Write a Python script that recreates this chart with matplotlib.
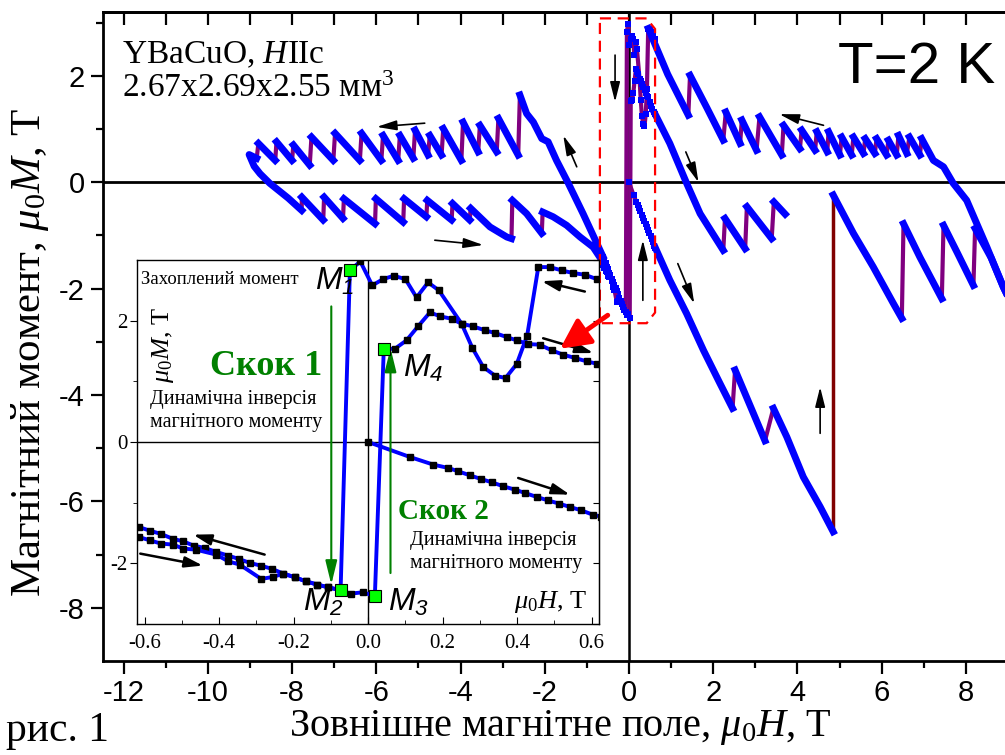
import numpy as np
import matplotlib
matplotlib.use('Agg')
import matplotlib.pyplot as plt
from matplotlib.patches import Polygon, FancyArrowPatch

plt.rcParams['font.family'] = ['Liberation Serif', 'DejaVu Serif']
plt.rcParams['mathtext.fontset'] = 'custom'
plt.rcParams['mathtext.rm'] = 'Liberation Serif'
plt.rcParams['mathtext.it'] = 'Liberation Serif:italic'
plt.rcParams['mathtext.bf'] = 'Liberation Serif:bold'
plt.rcParams['mathtext.sf'] = 'Liberation Sans:italic'
plt.rcParams['axes.unicode_minus'] = False

BLUE = '#0000ff'
PURPLE = '#800080'
MAROON = '#800000'
GREEN = '#008000'

# ---- дані біля нуля (вставка), мю0H в Т, мю0M в Т ----
# поле зменшується від +0.62 до -0.62 (стрибок 1: M1 -> M2)
runA_h = [0.614, 0.582, 0.551, 0.520, 0.488, 0.457, 0.427, 0.399, 0.369, 0.341, 0.309, 0.280,
          0.251, 0.190, 0.161, 0.130, 0.100, 0.069, 0.040, 0.011, -0.021, -0.049,
          -0.074, -0.108, -0.137, -0.168, -0.197, -0.228, -0.258, -0.289, -0.318, -0.347,
          -0.376, -0.408, -0.439, -0.469, -0.497, -0.524, -0.556, -0.587, -0.616]
runA_m = [2.685, 2.757, 2.784, 2.828, 2.883, 2.883, 1.752, 1.285, 1.054, 1.093, 1.236, 1.549,
          1.949, 2.499, 2.630, 2.383, 2.685, 2.740, 2.685, 2.581, 2.976, 2.828,
          -2.444, -2.394, -2.350, -2.295, -2.230, -2.169, -2.092, -2.037, -1.993, -1.928,
          -1.873, -1.812, -1.746, -1.708, -1.636, -1.598, -1.516, -1.461, -1.400]
# поле зростає від -0.62 до +0.62 (стрибок 2: M3 -> M4)
runB_h = [-0.616, -0.587, -0.556, -0.524, -0.497, -0.463, -0.408, -0.376, -0.345, -0.287,
          -0.255, -0.228, -0.197, -0.168, -0.137, -0.108, -0.074, -0.047, -0.013, 0.018,
          0.042, 0.072, 0.103, 0.134, 0.166, 0.194, 0.224, 0.251, 0.282, 0.314,
          0.341, 0.372, 0.399, 0.430, 0.461, 0.493, 0.524, 0.556, 0.587, 0.614]
runB_m = [-1.565, -1.620, -1.675, -1.691, -1.757, -1.774, -1.856, -1.966, -2.021, -2.257,
          -2.224, -2.169, -2.230, -2.295, -2.350, -2.394, -2.444, -2.499, -2.477, -2.543,
          1.532, 1.538, 1.675, 1.906, 2.136, 2.070, 2.032, 1.949, 1.906, 1.840,
          1.796, 1.730, 1.675, 1.614, 1.604, 1.510, 1.439, 1.384, 1.329, 1.291]
# початкова крива
runC_h = [0.0, 0.112, 0.175, 0.215, 0.242, 0.273, 0.303, 0.332, 0.363, 0.394, 0.421,
          0.453, 0.482, 0.513, 0.542, 0.572, 0.603, 0.625]
runC_m = [0.0, -0.247, -0.373, -0.428, -0.483, -0.549, -0.610, -0.664, -0.730, -0.785, -0.840,
          -0.906, -0.961, -1.016, -1.071, -1.126, -1.197, -1.23]

# точки M1..M4
mpt_h = [-0.049, -0.074, 0.018, 0.042]
mpt_m = [2.828, -2.444, -2.543, 1.532]
mpt_names = ['1', '2', '3', '4']

# ---- основний графік ----
# верхня гілка, від +0.46 Т до правого краю
up_h = [0.46, 0.92, 1.41, 1.45, 1.85, 2.24, 2.30, 2.64, 2.68, 3.03, 3.10, 3.63, 3.67, 4.06,
        4.10, 4.42, 4.46, 4.71, 4.74, 5.01, 5.05, 5.29, 5.33, 5.57, 5.61, 5.84, 5.88, 6.12,
        6.16, 6.36, 6.40, 6.60, 6.66, 6.91, 6.95, 7.23, 7.47, 7.70, 8.02, 8.50, 8.89, 9.0]
up_m = [2.89, 2.03, 1.26, 2.01, 1.40, 0.79, 1.32, 0.73, 1.17, 0.60, 1.23, 0.51, 1.07, 0.63,
        0.98, 0.60, 0.95, 0.57, 0.95, 0.51, 0.85, 0.51, 0.85, 0.54, 0.82, 0.54, 0.82, 0.51,
        0.79, 0.51, 0.88, 0.54, 0.85, 0.51, 0.82, 0.41, 0.29, -0.02, -0.34, -1.22, -1.97, -2.15]

# петля в від'ємних полях (до -9 Т і назад)
loop_h = [-0.616, -1.09, -1.44, -1.72, -1.92, -2.07, -2.27, -2.43, -2.59,
          -2.63, -3.10, -3.14, -3.54, -3.58, -3.94, -3.98, -4.41, -4.45, -4.73,
          -4.77, -5.08, -5.12, -5.44, -5.48, -5.84, -5.88, -6.35, -6.39, -6.98,
          -7.02, -7.54, -7.58, -7.97, -8.00, -8.37, -8.40, -8.80, -8.84, -9.02,
          -8.90, -8.76, -8.53, -8.09, -7.77, -7.77, -7.26, -7.24, -6.79, -6.77, -6.03,
          -6.01, -5.36, -5.34, -4.81, -4.79, -4.21, -4.19, -3.78, -3.76, -3.30, -2.90,
          -2.79, -2.77, -2.43, -2.07, -2.05, -1.80, -1.48, -1.16, -0.85, -0.616]
loop_m = [-1.40, -0.59, -0.02, 0.41, 0.76, 0.82, 1.13, 1.29, 1.64,
          0.51, 1.20, 0.57, 1.07, 0.57, 1.13, 0.41, 1.01, 0.51, 0.88,
          0.51, 0.98, 0.45, 0.88, 0.41, 0.88, 0.41, 0.92, 0.41, 0.92,
          0.41, 0.85, 0.32, 0.70, 0.41, 0.76, 0.41, 0.73, 0.45, 0.52,
          0.30, 0.16, -0.02, -0.30, -0.53, -0.28, -0.71, -0.28, -0.68, -0.31, -0.78,
          -0.31, -0.75, -0.31, -0.65, -0.34, -0.71, -0.40, -0.71, -0.49, -0.84, -1.03,
          -1.06, -0.34, -0.59, -0.96, -0.56, -0.65, -0.81, -1.03, -1.22, -1.50]

# після стрибка 2, поле зростає
inc_h = [0.614, 0.97, 1.37, 1.69, 2.24, 2.28, 2.76, 2.80, 3.39, 3.44, 3.71]
inc_m = [1.291, 0.73, -0.02, -0.59, -1.28, -0.68, -1.25, -0.46, -1.06, -0.37, -0.60]

# продовження початкової кривої
vir_h = [0.625, 0.97, 1.37, 1.77, 2.16, 2.46, 2.52, 3.23, 3.43, 3.75, 4.14, 4.54, 4.85]
vir_m = [-1.23, -1.84, -2.47, -3.16, -3.78, -4.25, -3.53, -4.86, -4.25, -4.79, -5.54, -6.10, -6.57]

# після великого стрибка при 4.85 Т
back_h = [4.85, 5.33, 5.80, 6.28, 6.48, 6.52, 6.91, 7.43, 7.47, 7.80, 8.18, 8.22, 8.60, 8.89, 9.0]
back_m = [-0.24, -0.96, -1.59, -2.28, -2.56, -0.78, -1.41, -2.19, -0.81, -1.33, -1.94, -0.87,
          -1.42, -1.97, -2.15]


def draw_branch(ax, hs, ms):
    # стрибки потоку - фіолетові, плавні ділянки - сині
    ax.plot(hs, ms, color=PURPLE, lw=3, zorder=3)
    bx, by = [hs[0]], [ms[0]]
    for i in range(1, len(hs)):
        dx = hs[i] - hs[i - 1]
        dy = ms[i] - ms[i - 1]
        if dx * dy < 0:
            if np.isnan(bx[-1]):
                bx.append(hs[i - 1])
                by.append(ms[i - 1])
            bx.append(hs[i])
            by.append(ms[i])
        else:
            bx.append(np.nan)
            by.append(np.nan)
    ax.plot(bx, by, color=BLUE, lw=5, solid_capstyle='projecting', zorder=4)


fig = plt.figure(figsize=(10.05, 7.55), dpi=100)
W, H = 1005.0, 755.0
ax = fig.add_axes([103 / W, 1 - 661 / H, (1005 - 103) / W, (661 - 12) / H])
ax.set_xlim(-12.49, 8.93)
ax.set_ylim(-9.0, 3.2)

for s in ['left', 'bottom', 'top']:
    ax.spines[s].set_linewidth(2)
ax.spines['right'].set_visible(False)

ax.set_xticks(range(-12, 9, 2))
ax.set_xticks(range(-11, 9, 2), minor=True)
ax.set_yticks([-8, -6, -4, -2, 0, 2])
ax.set_yticks([-7, -5, -3, -1, 1, 3], minor=True)
ax.tick_params(which='major', direction='out', length=9, width=1.6, labelsize=21,
               labelfontfamily='Liberation Sans', pad=4)
ax.tick_params(which='minor', direction='out', length=5, width=1.6)
top = ax.secondary_xaxis('top')
top.set_xticks(range(-12, 9))
top.tick_params(direction='in', length=9, width=1.6, labeltop=False)
top.spines['top'].set_linewidth(2)

ax.axhline(0, color='k', lw=2, zorder=1)
ax.axvline(0, color='k', lw=1.8, zorder=1)

# near zero (dense points: purple line + blue squares)
for hs, ms in [(runA_h, runA_m), (runB_h, runB_m), (runC_h, runC_m)]:
    ax.plot(hs, ms, color=PURPLE, lw=3, marker='s', ms=4.5, mfc=BLUE, mec=BLUE, mew=0, zorder=4)

for hs, ms in [(up_h, up_m), (loop_h, loop_m), (inc_h, inc_m), (vir_h, vir_m), (back_h, back_m)]:
    draw_branch(ax, hs, ms)

ax.plot([vir_h[-1], back_h[0]], [vir_m[-1], back_m[0]], color=MAROON, lw=2.5, zorder=3)

arr = dict(arrowstyle='-|>,head_length=0.6,head_width=0.15', color='k', lw=1.2,
           mutation_scale=20, shrinkA=0, shrinkB=0)
for tail, head in [((-4.85, 1.11), (-5.99, 1.04)), ((-4.61, -1.09), (-3.46, -1.18)),
                   ((-1.24, 0.29), (-1.56, 0.88)), ((-0.33, 2.39), (-0.33, 1.51)),
                   ((0.33, -2.22), (0.33, -1.09)), ((1.35, 0.57), (1.65, 0.0)),
                   ((1.16, -1.53), (1.55, -2.28)), ((4.54, -4.72), (4.54, -3.85)),
                   ((4.62, 1.07), (3.57, 1.28))]:
    ax.annotate('', xy=head, xytext=tail, arrowprops=arr, zorder=6)

box = Polygon([(-0.69, 3.08), (0.42, 3.08), (0.62, 2.88), (0.62, -2.45), (0.42, -2.65),
               (-0.69, -2.65)], closed=True, fill=False, ec='red', lw=1.6,
              ls=(0, (5, 3)), zorder=5)
ax.add_patch(box)

fig.text(122 / W, 1 - 63 / H, 'YBaCuO, $H$IIc', fontsize=24, ha='left', va='baseline')
fig.text(122 / W, 1 - 97 / H, '2.67x2.69x2.55 мм$^3$', fontsize=24, ha='left', va='baseline')
fig.text(838 / W, 1 - 83 / H, 'T=2 K', fontsize=42, family='Liberation Sans',
         ha='left', va='baseline')
fig.text(6 / W, 1 - 741 / H, 'рис. 1', fontsize=30, ha='left', va='baseline')
fig.text(560 / W, 1 - 736 / H, 'Зовнішне магнітне поле, $\\mu_0H$, Т', fontsize=29,
         ha='center', va='baseline')
fig.text(30 / W, 1 - 352 / H, 'Магнітний момент, $\\mu_0M$, Т', fontsize=31,
         rotation=90, ha='center', va='center')

# ---- вставка ----
axin = fig.add_axes([137.3 / W, 1 - 624 / H, (599 - 137.3) / W, (624 - 260) / H])
axin.set_zorder(5)
axin.set_xlim(-0.62, 0.62)
axin.set_ylim(-3.0, 3.0)
axin.set_xticks([-0.6, -0.4, -0.2, 0.0, 0.2, 0.4, 0.6])
axin.set_xticklabels(['-0.6', '-0.4', '-0.2', '0.0', '0.2', '0.4', '0.6'])
axin.set_xticks([-0.5, -0.3, -0.1, 0.1, 0.3, 0.5], minor=True)
axin.set_yticks([-2, 0, 2])
axin.set_yticks([-1, 1], minor=True)
axin.tick_params(axis='x', which='both', direction='in', labelsize=15, pad=7)
axin.tick_params(axis='x', which='major', length=5)
axin.tick_params(axis='x', which='minor', length=3)
axin.tick_params(axis='y', which='both', direction='out', labelsize=15, pad=2)
axin.tick_params(axis='y', which='major', length=5)
axin.tick_params(axis='y', which='minor', length=3)
rin = axin.secondary_yaxis('right')
rin.set_yticks([-3, -2, -1, 0, 1, 2, 3])
rin.tick_params(direction='in', length=4, labelright=False)
for s in axin.spines.values():
    s.set_linewidth(1)

axin.axhline(0, color='k', lw=1, zorder=1)
axin.axvline(0, color='k', lw=1, zorder=1)

for hs, ms in [(runA_h, runA_m), (runB_h, runB_m), (runC_h, runC_m)]:
    axin.plot(hs, ms, color=BLUE, lw=2.8, marker='s', ms=4.5, mfc='k', mec='k', zorder=3)
axin.plot(mpt_h, mpt_m, ls='none', marker='s', ms=9, mfc='#00ff00', mec='k', mew=0.8, zorder=4)

garr = dict(arrowstyle='-|>,head_length=0.9,head_width=0.22', color=GREEN, lw=1.5,
            mutation_scale=16, shrinkA=0, shrinkB=0)
axin.annotate('', xy=(-0.099, -2.35), xytext=(-0.099, 2.235), arrowprops=garr)
axin.annotate('', xy=(0.060, 1.55), xytext=(0.060, -2.16), arrowprops=garr)

iarr = dict(arrowstyle='-|>,head_length=0.6,head_width=0.18', color='k', lw=1.8,
            mutation_scale=18, shrinkA=0, shrinkB=0)
for tail, head in [((0.582, 2.48), (0.466, 2.65)), ((0.470, 1.71), (0.605, 1.466)),
                   ((0.403, -0.593), (0.542, -0.868)), ((-0.278, -1.856), (-0.470, -1.527)),
                   ((-0.612, -1.84), (-0.444, -2.037))]:
    axin.annotate('', xy=head, xytext=tail, arrowprops=iarr)

axin.text(-0.609, 2.61, 'Захоплений момент', fontsize=13.5, ha='left', va='baseline')
axin.text(-0.425, 1.11, 'Скок 1', fontsize=26, fontweight='bold', color=GREEN,
          ha='left', va='baseline')
axin.text(-0.587, 0.62, 'Динамічна інверсія', fontsize=14.5, ha='left', va='baseline')
axin.text(-0.587, 0.24, 'магнітного моменту', fontsize=14.5, ha='left', va='baseline')
axin.text(0.079, -1.27, 'Скок 2', fontsize=21, fontweight='bold', color=GREEN,
          ha='left', va='baseline')
axin.text(0.112, -1.69, 'Динамічна інверсія', fontsize=14.5, ha='left', va='baseline')
axin.text(0.112, -2.08, 'магнітного моменту', fontsize=14.5, ha='left', va='baseline')
for (x0, y0), n in zip([(-0.143, 2.51), (-0.176, -2.79), (0.053, -2.79), (0.093, 1.08)],
                       mpt_names):
    axin.text(x0, y0, '$\\mathsf{M_%s}$' % n, fontsize=23, ha='left', va='baseline')
axin.text(0.587, -2.73, '$\\mu_0H$, Т', fontsize=19, ha='right', va='baseline')
axin.text(-0.552, 1.59, '$\\mu_0M$, Т', fontsize=19, rotation=90, ha='center', va='center')

red = FancyArrowPatch(posA=(-0.45, -2.47), posB=(-1.69, -3.16), transform=ax.transData,
                      arrowstyle='-|>,head_length=0.9,head_width=0.45', mutation_scale=20,
                      lw=3.5, color='red', zorder=10)
fig.add_artist(red)

fig.savefig('out.png', dpi=100)
